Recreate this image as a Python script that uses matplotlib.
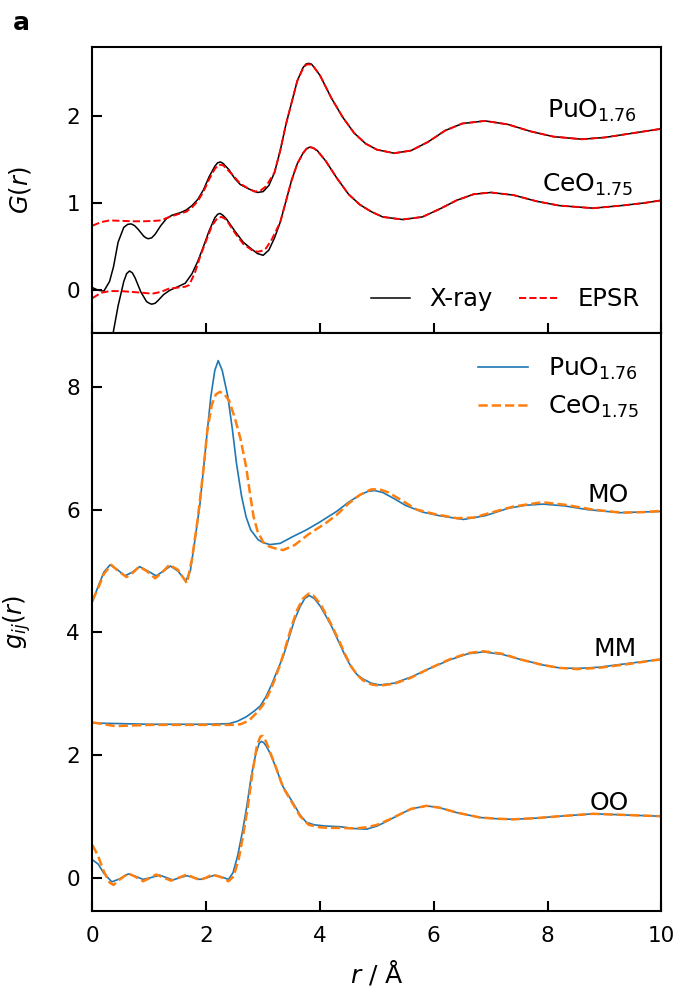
import matplotlib.pyplot as plt

# ---- top panel: total G(r), X-ray vs EPSR ----
r_pu_xray = [0, 0.1, 0.2, 0.3, 0.37, 0.45, 0.55, 0.62, 0.68, 0.74, 0.8, 0.9, 0.94, 0.98, 1.04, 1.1, 1.2, 1.3, 1.4,
             1.55, 1.65, 1.75, 1.85, 1.95, 2.05, 2.15, 2.2, 2.25, 2.3, 2.4, 2.5, 2.6, 2.75, 2.9, 3.0, 3.1, 3.2, 3.3,
             3.4, 3.5, 3.6, 3.7, 3.75, 3.8, 3.85, 3.9, 4.0, 4.1, 4.2, 4.4, 4.6, 4.8, 5.0, 5.3, 5.6, 5.9, 6.2, 6.5,
             6.9, 7.3, 7.7, 8.1, 8.6, 9.0, 9.5, 10]
G_pu_xray = [0.03, 0.0, -0.01, 0.1, 0.27, 0.55, 0.72, 0.755, 0.76, 0.74, 0.7, 0.62, 0.6, 0.59, 0.6, 0.64, 0.74,
             0.82, 0.86, 0.89, 0.92, 0.97, 1.04, 1.15, 1.3, 1.42, 1.46, 1.47, 1.45, 1.38, 1.28, 1.21, 1.16, 1.12,
             1.13, 1.2, 1.35, 1.6, 1.9, 2.15, 2.4, 2.55, 2.59, 2.6, 2.59, 2.55, 2.46, 2.33, 2.2, 1.98, 1.8, 1.68,
             1.61, 1.57, 1.6, 1.7, 1.83, 1.91, 1.94, 1.9, 1.82, 1.76, 1.73, 1.75, 1.8, 1.85]

r_pu_epsr = [0, 0.15, 0.3, 0.5, 0.7, 0.9, 1.1, 1.2, 1.35, 1.5, 1.65, 1.75, 1.85, 1.95, 2.05, 2.15, 2.22, 2.3, 2.45,
             2.6, 2.75, 2.85, 2.95, 3.05, 3.2, 3.3, 3.4, 3.5, 3.6, 3.7, 3.75, 3.8, 3.85, 3.9, 4.0, 4.1, 4.2, 4.4,
             4.6, 4.8, 5.0, 5.3, 5.6, 5.9, 6.2, 6.5, 6.9, 7.3, 7.7, 8.1, 8.6, 9.0, 9.5, 10]
G_pu_epsr = [0.74, 0.78, 0.80, 0.795, 0.79, 0.79, 0.795, 0.8, 0.84, 0.87, 0.9, 0.95, 1.02, 1.13, 1.27, 1.39, 1.44,
             1.43, 1.33, 1.22, 1.16, 1.13, 1.14, 1.19, 1.35, 1.6, 1.9, 2.15, 2.4, 2.54, 2.58, 2.59, 2.58, 2.55,
             2.46, 2.33, 2.2, 1.98, 1.8, 1.68, 1.61, 1.57, 1.6, 1.7, 1.83, 1.91, 1.94, 1.9, 1.82, 1.76, 1.73, 1.75,
             1.8, 1.85]

r_ce_xray = [0.28, 0.36, 0.45, 0.55, 0.6, 0.65, 0.7, 0.75, 0.85, 0.95, 1.0, 1.04, 1.1, 1.15, 1.25, 1.36, 1.5, 1.63,
             1.75, 1.85, 1.95, 2.05, 2.15, 2.2, 2.24, 2.29, 2.35, 2.5, 2.65, 2.8, 2.9, 3.0, 3.1, 3.2, 3.3, 3.4,
             3.5, 3.6, 3.7, 3.76, 3.82, 3.88, 3.95, 4.1, 4.3, 4.5, 4.7, 4.9, 5.1, 5.45, 5.8, 6.1, 6.4, 6.7, 7.0,
             7.4, 7.8, 8.2, 8.8, 9.3, 9.7, 10]
G_ce_xray = [-0.8, -0.5, -0.18, 0.1, 0.19, 0.22, 0.2, 0.14, -0.02, -0.13, -0.15, -0.16, -0.15, -0.12, -0.05, 0.0,
             0.04, 0.08, 0.19, 0.33, 0.5, 0.68, 0.83, 0.87, 0.88, 0.86, 0.82, 0.68, 0.55, 0.47, 0.42, 0.4, 0.46,
             0.6, 0.78, 1.02, 1.26, 1.45, 1.57, 1.62, 1.64, 1.63, 1.6, 1.48, 1.28, 1.1, 0.98, 0.9, 0.84, 0.81,
             0.84, 0.93, 1.03, 1.1, 1.12, 1.09, 1.02, 0.97, 0.94, 0.97, 1.0, 1.03]

r_ce_epsr = [0, 0.15, 0.3, 0.5, 0.7, 0.9, 1.05, 1.2, 1.35, 1.5, 1.63, 1.7, 1.8, 1.9, 2.0, 2.1, 2.2, 2.27, 2.35, 2.5,
             2.65, 2.8, 2.9, 2.97, 3.05, 3.15, 3.3, 3.4, 3.5, 3.6, 3.7, 3.76, 3.82, 3.88, 3.95, 4.1, 4.3, 4.5, 4.7,
             4.9, 5.1, 5.45, 5.8, 6.1, 6.4, 6.7, 7.0, 7.4, 7.8, 8.2, 8.8, 9.3, 9.7, 10]
G_ce_epsr = [-0.09, -0.03, -0.01, -0.01, -0.02, -0.03, -0.04, -0.02, 0.02, 0.03, 0.04, 0.06, 0.2, 0.4, 0.57, 0.74,
             0.83, 0.84, 0.81, 0.66, 0.53, 0.46, 0.44, 0.45, 0.48, 0.58, 0.78, 1.02, 1.26, 1.45, 1.57, 1.62, 1.64,
             1.63, 1.6, 1.48, 1.28, 1.1, 0.98, 0.9, 0.84, 0.81, 0.84, 0.93, 1.03, 1.1, 1.12, 1.09, 1.02, 0.97,
             0.94, 0.97, 1.0, 1.03]

# ---- bottom panel: partial g_ij(r), PuO1.76 (blue) vs CeO1.75 (orange) ----
r_mo_pu = [0, 0.1, 0.2, 0.31, 0.44, 0.57, 0.7, 0.83, 0.97, 1.12, 1.25, 1.37, 1.5, 1.64, 1.72, 1.8, 1.89, 1.96, 2.02,
           2.08, 2.15, 2.21, 2.28, 2.38, 2.46, 2.53, 2.62, 2.7, 2.78, 2.91, 3.0, 3.12, 3.3, 3.5, 3.76, 4.0, 4.29,
           4.5, 4.7, 4.85, 4.96, 5.1, 5.3, 5.5, 5.8, 6.1, 6.52, 6.9, 7.3, 7.6, 7.92, 8.3, 8.7, 9.27, 9.6, 10]
g_mo_pu = [4.5, 4.75, 4.98, 5.1, 5.02, 4.92, 4.98, 5.07, 5.0, 4.92, 5.0, 5.08, 5.0, 4.84, 5.0, 5.5, 6.1, 6.75, 7.3,
           7.84, 8.27, 8.43, 8.27, 7.84, 7.3, 6.76, 6.22, 5.88, 5.67, 5.51, 5.46, 5.43, 5.45, 5.55, 5.67, 5.8,
           5.97, 6.12, 6.24, 6.3, 6.31, 6.28, 6.18, 6.07, 5.96, 5.9, 5.84, 5.9, 6.02, 6.07, 6.09, 6.06, 6.0, 5.95,
           5.96, 5.97]

r_mo_ce = [0, 0.1, 0.2, 0.33, 0.45, 0.6, 0.72, 0.82, 0.95, 1.1, 1.22, 1.35, 1.5, 1.66, 1.75, 1.85, 1.95, 2.02, 2.1,
           2.17, 2.24, 2.32, 2.4, 2.5, 2.6, 2.7, 2.77, 2.83, 2.9, 3.0, 3.1, 3.2, 3.35, 3.55, 3.8, 4.1, 4.3, 4.5,
           4.7, 4.9, 5.05, 5.2, 5.4, 5.7, 6.0, 6.4, 6.7, 7.0, 7.4, 7.9, 8.3, 8.8, 9.3, 9.7, 10]
g_mo_ce = [4.52, 4.72, 4.95, 5.1, 5.0, 4.9, 4.98, 5.07, 5.0, 4.88, 4.97, 5.1, 5.02, 4.8, 5.2, 5.85, 6.65, 7.3,
           7.72, 7.88, 7.92, 7.88, 7.78, 7.5, 7.16, 6.7, 6.25, 5.89, 5.65, 5.47, 5.4, 5.37, 5.34, 5.42, 5.6,
           5.78, 5.92, 6.1, 6.24, 6.33, 6.33, 6.28, 6.17, 6.0, 5.93, 5.86, 5.87, 5.95, 6.05, 6.12, 6.08, 6.0,
           5.95, 5.96, 5.98]

r_mm_pu = [0, 0.5, 1.0, 1.5, 2.0, 2.4, 2.55, 2.7, 2.85, 2.95, 3.05, 3.15, 3.25, 3.35, 3.45, 3.55, 3.65, 3.73, 3.81,
           3.9, 4.0, 4.1, 4.2, 4.35, 4.45, 4.55, 4.65, 4.75, 4.9, 5.05, 5.3, 5.6, 5.9, 6.28, 6.6, 6.87, 7.2, 7.51,
           7.9, 8.2, 8.51, 8.9, 9.4, 10]
g_mm_pu = [2.52, 2.51, 2.5, 2.5, 2.5, 2.51, 2.55, 2.62, 2.72, 2.8, 2.95, 3.15, 3.38, 3.6, 3.9, 4.2, 4.42, 4.55, 4.6,
           4.55, 4.43, 4.27, 4.1, 3.8, 3.6, 3.43, 3.31, 3.24, 3.17, 3.14, 3.17, 3.27, 3.4, 3.55, 3.65, 3.68, 3.64,
           3.56, 3.47, 3.42, 3.41, 3.43, 3.49, 3.56]

r_mm_ce = [0, 0.2, 0.4, 0.7, 1.0, 1.5, 2.0, 2.4, 2.6, 2.75, 2.9, 3.0, 3.1, 3.2, 3.3, 3.4, 3.5, 3.6, 3.7, 3.8, 3.88,
           4.0, 4.1, 4.2, 4.35, 4.45, 4.55, 4.65, 4.75, 4.9, 5.05, 5.3, 5.6, 5.9, 6.28, 6.6, 6.87, 7.2, 7.51, 7.9,
           8.2, 8.51, 8.9, 9.4, 10]
g_mm_ce = [2.53, 2.5, 2.47, 2.48, 2.49, 2.49, 2.49, 2.49, 2.5, 2.56, 2.7, 2.82, 3.0, 3.22, 3.48, 3.78, 4.1, 4.37,
           4.55, 4.63, 4.6, 4.47, 4.3, 4.12, 3.83, 3.62, 3.44, 3.31, 3.22, 3.15, 3.13, 3.16, 3.26, 3.4, 3.56, 3.66,
           3.69, 3.65, 3.56, 3.47, 3.42, 3.4, 3.42, 3.48, 3.56]

r_oo_pu = [0, 0.1, 0.2, 0.34, 0.48, 0.63, 0.76, 0.89, 1.03, 1.18, 1.3, 1.41, 1.54, 1.66, 1.78, 1.89, 2.02, 2.15,
           2.27, 2.39, 2.47, 2.55, 2.63, 2.71, 2.79, 2.87, 2.93, 2.97, 3.01, 3.05, 3.12, 3.2, 3.35, 3.53, 3.65,
           3.76, 3.9, 4.1, 4.35, 4.6, 4.82, 5.0, 5.2, 5.4, 5.6, 5.87, 6.1, 6.4, 6.81, 7.1, 7.4, 7.8, 8.2, 8.8, 9.4,
           10]
g_oo_pu = [0.29, 0.22, 0.07, -0.07, -0.02, 0.06, 0.02, -0.03, 0.0, 0.04, 0.0, -0.04, 0.0, 0.03, 0.0, -0.03, 0.0,
           0.04, 0.01, -0.03, 0.08, 0.35, 0.72, 1.15, 1.65, 2.02, 2.19, 2.22, 2.2, 2.15, 2.03, 1.85, 1.48, 1.21,
           1.02, 0.9, 0.86, 0.84, 0.83, 0.8, 0.79, 0.84, 0.93, 1.03, 1.12, 1.17, 1.14, 1.06, 0.98, 0.96, 0.95,
           0.97, 1.0, 1.04, 1.02, 1.0]

r_oo_ce = [0, 0.1, 0.2, 0.3, 0.37, 0.48, 0.63, 0.76, 0.89, 1.0, 1.12, 1.25, 1.38, 1.52, 1.66, 1.78, 1.89, 2.0, 2.1,
           2.25, 2.39, 2.48, 2.57, 2.65, 2.73, 2.81, 2.89, 2.95, 2.99, 3.05, 3.12, 3.2, 3.35, 3.53, 3.65, 3.8, 4.0,
           4.2, 4.4, 4.6, 4.82, 5.0, 5.2, 5.4, 5.6, 5.87, 6.1, 6.4, 6.81, 7.1, 7.4, 7.8, 8.2, 8.8, 9.4, 10]
g_oo_ce = [0.53, 0.35, 0.1, -0.08, -0.12, -0.03, 0.07, 0.01, -0.06, -0.01, 0.05, 0.0, -0.05, 0.0, 0.05, 0.0, -0.04,
           0.0, 0.05, 0.01, -0.06, 0.02, 0.3, 0.7, 1.15, 1.7, 2.15, 2.3, 2.31, 2.22, 2.05, 1.86, 1.47, 1.19, 1.0,
           0.86, 0.82, 0.81, 0.81, 0.8, 0.82, 0.86, 0.94, 1.03, 1.12, 1.17, 1.14, 1.06, 0.98, 0.96, 0.95, 0.97, 1.0,
           1.04, 1.02, 1.0]

blue = '#1f77b4'
orange = '#ff7f0e'

fig = plt.figure(figsize=(6.78, 9.94), dpi=100)
ax1 = fig.add_axes([0.1364, 0.665, 0.8392, 0.288])
ax2 = fig.add_axes([0.1364, 0.0838, 0.8392, 0.5812])

# top
ax1.plot(r_pu_xray, G_pu_xray, color='black', lw=1.1, label='X-ray')
ax1.plot(r_pu_epsr, G_pu_epsr, color='red', lw=1.4, ls='--', label='EPSR')
ax1.plot(r_ce_xray, G_ce_xray, color='black', lw=1.1)
ax1.plot(r_ce_epsr, G_ce_epsr, color='red', lw=1.4, ls='--')
ax1.text(9.55, 1.97, r'PuO$_{1.76}$', fontsize=18, ha='right', va='baseline')
ax1.text(9.50, 1.13, r'CeO$_{1.75}$', fontsize=18, ha='right', va='baseline')
ax1.set_xlim(0, 10)
ax1.set_ylim(-0.49, 2.79)
ax1.set_xticks([0, 2, 4, 6, 8, 10])
ax1.set_yticks([0, 1, 2])
ax1.tick_params(labelbottom=False)
ax1.set_ylabel(r'$G(r)$', fontsize=17.5)
ax1.legend(loc='lower right', ncol=2, frameon=False, fontsize=17.5, handlelength=1.6,
           columnspacing=1.1, borderaxespad=0.5)

# bottom
ax2.plot(r_mo_pu, g_mo_pu, color=blue, lw=1.2, label=r'PuO$_{1.76}$')
ax2.plot(r_mo_ce, g_mo_ce, color=orange, lw=1.8, ls='--', label=r'CeO$_{1.75}$')
ax2.plot(r_mm_pu, g_mm_pu, color=blue, lw=1.2)
ax2.plot(r_mm_ce, g_mm_ce, color=orange, lw=1.8, ls='--')
ax2.plot(r_oo_pu, g_oo_pu, color=blue, lw=1.2)
ax2.plot(r_oo_ce, g_oo_ce, color=orange, lw=1.8, ls='--')
ax2.text(9.42, 6.13, 'MO', fontsize=18, ha='right', va='baseline')
ax2.text(9.56, 3.62, 'MM', fontsize=18, ha='right', va='baseline')
ax2.text(9.43, 1.10, 'OO', fontsize=18, ha='right', va='baseline')
ax2.set_xlim(0, 10)
ax2.set_ylim(-0.54, 8.88)
ax2.set_xticks([0, 2, 4, 6, 8, 10])
ax2.set_yticks([0, 2, 4, 6, 8])
ax2.set_xlabel(r'$r$ / Å', fontsize=18, labelpad=9)
ax2.set_ylabel(r'$g_{ij}(r)$', fontsize=17.5)
ax2.legend(loc='upper right', frameon=False, fontsize=18)

for ax in (ax1, ax2):
    for s in ax.spines.values():
        s.set_linewidth(1.5)
    ax.tick_params(direction='in', length=7, width=1.5, labelsize=15.5)
    ax.tick_params(axis='y', pad=9)
    ax.tick_params(axis='x', pad=11)
    ax.yaxis.set_label_coords(-0.105, 0.5)

fig.text(13 / 678, 1 - 30 / 994, 'a', fontsize=18, fontweight='bold', va='baseline')

fig.savefig('out.png', dpi=100)
